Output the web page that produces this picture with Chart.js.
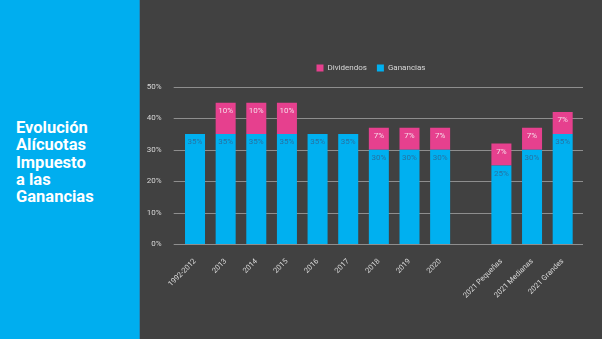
<!DOCTYPE html>
<html>
<head>
<meta charset="utf-8">
<script src="https://cdn.jsdelivr.net/npm/chart.js@4"></script>
<style>
  html, body { margin:0; padding:0; width:602px; height:339px; overflow:hidden; background:#414141; }
  #side { position:absolute; left:0; top:0; width:139px; height:339px; background:#00AEEF; border-right:1px solid #1b8cc0; }
  #title { position:absolute; left:16px; top:119px; color:#fff; font-family:Roboto, "Open Sans", sans-serif; font-weight:700; font-size:16.5px; line-height:17.25px; }
  #wrap { position:absolute; left:140px; top:0; width:462px; height:339px; }
</style>
</head>
<body>
<div id="side"><div id="title">Evolución<br>Alícuotas<br>Impuesto<br>a las<br>Ganancias</div></div>
<div id="wrap"><canvas id="c" width="462" height="339"></canvas></div>
<script>
const categories = ['1992-2012','2013','2014','2015','2016','2017','2018','2019','2020','','2021 Pequeñas','2021 Medianas','2021 Grandes'];
const ganancias  = [35,35,35,35,35,35,30,30,30,null,25,30,35];
const dividendos = [0,10,10,10,0,0,7,7,7,null,7,7,7];
const yTicks = [0,10,20,30,40,50];

const gridPlugin = {
  id: 'gridExt',
  beforeDatasetsDraw(chart) {
    const ctx = chart.ctx, y = chart.scales.y, a = chart.chartArea;
    ctx.save();
    ctx.strokeStyle = '#8e8e8e';
    ctx.lineWidth = 1.2;
    yTicks.forEach(v => {
      const py = Math.round(y.getPixelForValue(v)) + 0.5;
      ctx.beginPath();
      ctx.moveTo(a.left - 6, py);
      ctx.lineTo(a.right + 5, py);
      ctx.stroke();
    });
    ctx.restore();
  }
};

const labelPlugin = {
  id: 'barLabels',
  afterDatasetsDraw(chart) {
    const ctx = chart.ctx;
    ctx.save();
    ctx.font = '8px Roboto, sans-serif';
    ctx.textAlign = 'center';
    ctx.textBaseline = 'middle';
    chart.data.datasets.forEach((ds, di) => {
      const meta = chart.getDatasetMeta(di);
      meta.data.forEach((bar, i) => {
        const v = ds.data[i];
        if (!v) return;
        ctx.fillStyle = ds.label === 'Dividendos' ? '#f6dbe8' : '#2673a3';
        ctx.fillText(v + '%', bar.x, bar.y + 8);
      });
    });
    ctx.restore();
  }
};

const legendPlugin = {
  id: 'legendFix',
  afterInit(chart) {
    const lg = chart.legend;
    const f = lg.fit.bind(lg);
    lg.fit = function() { f(); this.height = 33; };
  },
  afterLayout(chart) {
    chart.legend.left += 12;
    chart.legend.right += 12;
  }
};

new Chart(document.getElementById('c'), {
  type: 'bar',
  data: {
    labels: categories,
    datasets: [
      { label: 'Ganancias', data: ganancias, backgroundColor: '#00B0F0', stack: 's' },
      { label: 'Dividendos', data: dividendos, backgroundColor: '#E6408E', stack: 's' }
    ]
  },
  options: {
    responsive: false,
    animation: false,
    devicePixelRatio: 1,
    layout: { padding: { top: 54, right: 24, left: 0, bottom: 0 } },
    datasets: { bar: { categoryPercentage: 1, barPercentage: 0.653 } },
    plugins: {
      tooltip: { enabled: false },
      legend: {
        position: 'top',
        reverse: true,
        labels: { boxWidth: 7, boxHeight: 7, padding: 10, color: '#d8d8d8', font: { size: 8, family: 'Roboto, sans-serif' } }
      }
    },
    scales: {
      x: {
        stacked: true,
        grid: { display: false },
        border: { display: false },
        ticks: { color: '#d8d8d8', font: { size: 7.5, family: 'Roboto, sans-serif' }, minRotation: 45, maxRotation: 45, autoSkip: false, padding: 5 },
        afterFit(s) { s.height = 95; }
      },
      y: {
        stacked: true,
        min: 0, max: 50,
        grid: { display: false },
        border: { display: false },
        ticks: { stepSize: 10, color: '#d8d8d8', font: { size: 8, family: 'Roboto, sans-serif' }, padding: 10, callback: v => v + '%' },
        afterFit(s) { s.width = 39.7; }
      }
    }
  },
  plugins: [gridPlugin, labelPlugin, legendPlugin]
});
</script>
</body>
</html>
